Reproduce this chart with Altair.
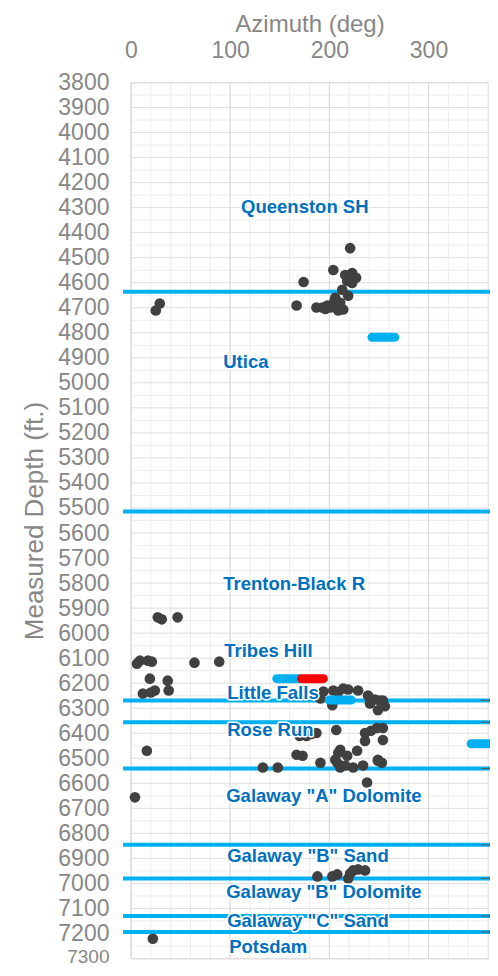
import altair as alt
import pandas as pd

# ---- data ----
az = [221, 204, 223, 174, 167, 187, 198, 206, 213, 218, 214, 209, 223, 219, 211, 201, 193, 29, 25, 216, 227, 223, 205, 196,
      27, 31, 47, 6, 9, 17, 21, 64, 89, 19, 37, 12, 24, 38, 20,
      191, 194, 204, 214, 229, 239, 251, 256, 249, 203, 241, 254, 219, 246, 209,
      187, 177, 170, 172, 207, 236, 248, 254, 236, 254, 16, 167, 173, 191, 209, 218, 228, 208, 211, 224, 234, 249, 253,
      133, 148, 238, 4, 216, 206, 211, 182, 242, 249,
      188, 203, 208, 219, 221, 224, 229, 236,
      22]
md = [4462, 4549, 4561, 4597, 4691, 4699, 4691, 4660, 4628, 4593, 4707, 4711, 4589, 4652, 4680, 4699, 4699, 4683, 4711, 4569, 4580, 4601, 4675, 4705,
      5937, 5945, 5937, 6122, 6110, 6110, 6114, 6118, 6114, 6182, 6190, 6241, 6229, 6229, 6237,
      6261, 6233, 6229, 6221, 6229, 6249, 6269, 6292, 6308, 6288, 6281, 6269, 6225, 6265, 6235,
      6399, 6411, 6411, 6399, 6387, 6399, 6379, 6379, 6431, 6427, 6470, 6486, 6490, 6518, 6478, 6490, 6470, 6518, 6537, 6537, 6529, 6506, 6518,
      6537, 6537, 6597, 6656, 6529, 6506, 6466, 6403, 6390, 6510,
      6972, 6972, 6964, 6980, 6960, 6948, 6944, 6948,
      7221]

tops_md = [4636, 5514, 6269, 6356, 6541, 6846, 6980, 7130, 7194]
tops_from = [-8] * 9
tops_to = [369] * 9

dash_md = [6269, 6356, 6541, 6846, 6980, 7130, 7194]

bar_md = [4818, 6182, 6267, 6442, 6182]
bar_from = [243, 147, 200, 343, 172]
bar_to = [266, 170, 222, 365, 194]
bar_color = ["#00B0F0", "#00B0F0", "#00B0F0", "#00B0F0", "#FF0000"]

label_text = ["Queenston SH", "Utica", "Trenton-Black R", "Tribes Hill", "Little Falls", "Rose Run",
              'Galaway "A" Dolomite', 'Galaway "B" Sand', 'Galaway "B" Dolomite', 'Galaway "C" Sand', "Potsdam"]
label_az = [111, 93, 93, 94, 97, 97, 96, 97, 96, 97, 99]
label_md = [4296, 4917, 5802, 6071, 6241, 6387, 6650, 6890, 7033, 7150, 7254]

x_ticks = [0, 100, 200, 300]
y_ticks = list(range(3800, 7301, 100))

# ---- build ----
FONT = "Liberation Sans"
GRAY = "#878787"
xs = alt.Scale(domain=[0, 360], nice=False, zero=False)
ys = alt.Scale(domain=[3800, 7300], reverse=True, nice=False, zero=False)
x_axis = alt.Axis(orient="top", values=x_ticks, title="Azimuth (deg)", grid=False, domain=False, ticks=False,
                  tickSize=0, labelFontSize=23, labelColor=GRAY, labelFont=FONT, labelPadding=20,
                  labelFlush=False,
                  titleFontSize=24, titleColor=GRAY, titleFont=FONT, titleFontWeight="normal", titlePadding=3)
y_axis = alt.Axis(values=y_ticks, format="d", title="Measured Depth (ft.)", grid=False, domain=False, ticks=False,
                  tickSize=0, labelColor=GRAY, labelFont=FONT, labelPadding=22,
                  labelFontSize={"condition": {"test": "datum.value === 7300", "value": 19}, "value": 23},
                  labelOffset={"condition": {"test": "datum.value === 7300", "value": -2.3}, "value": 0},
                  titleFontSize=26, titleColor=GRAY, titleFont=FONT, titleFontWeight="normal", titlePadding=10,
                  labelOverlap=False, labelFlush=False, labelBound=False)

X = lambda f: alt.X(f, type="quantitative", scale=xs, axis=x_axis)
Y = lambda f: alt.Y(f, type="quantitative", scale=ys, axis=y_axis)

minor_x = pd.DataFrame({"az": list(range(0, 361, 20))})
major_x = pd.DataFrame({"az": x_ticks})
minor_y = pd.DataFrame({"md": list(range(3850, 7300, 100))})
major_y = pd.DataFrame({"md": y_ticks})

g1 = alt.Chart(minor_x).mark_rule(color="#EDEDED", strokeWidth=1).encode(x=X("az"))
g2 = alt.Chart(minor_y).mark_rule(color="#EDEDED", strokeWidth=1).encode(y=Y("md"))
g3 = alt.Chart(major_y).mark_rule(color="#DEDEDE", strokeWidth=1).encode(y=Y("md"))
g4 = alt.Chart(major_x).mark_rule(color="#D9D9D9", strokeWidth=1).encode(x=X("az"))

tops = pd.DataFrame({"md": tops_md, "az": tops_from, "az2": tops_to})
lines = alt.Chart(tops).mark_rule(color="#00B0F0", strokeWidth=4, clip=False).encode(
    x=X("az"), x2="az2", y=Y("md"))

dashes = pd.DataFrame({"md": dash_md, "az": [353] * len(dash_md), "az2": [366] * len(dash_md)})
dash_l = alt.Chart(dashes).mark_rule(color="#595959", strokeWidth=1, clip=False).encode(
    x=X("az"), x2="az2", y=Y("md"))

pts = pd.DataFrame({"az": az, "md": md})
points = alt.Chart(pts).mark_circle(size=113, color="#404040", opacity=1).encode(x=X("az"), y=Y("md"))

bars = pd.DataFrame({"md": bar_md, "az": bar_from, "az2": bar_to, "c": bar_color, "o": list(range(len(bar_md)))})
bar_l = alt.Chart(bars).mark_rule(strokeWidth=9, strokeCap="round", clip=False).encode(
    x=X("az"), x2="az2", y=Y("md"), color=alt.Color("c:N", scale=None), order="o:Q")

labs = pd.DataFrame({"t": label_text, "az": label_az, "md": label_md})
halo = alt.Chart(labs).mark_text(align="left", baseline="middle", font=FONT, fontSize=18.5, fontWeight="bold",
                                 color="#0070C0", stroke="white", strokeWidth=3, strokeJoin="round").encode(
    x=X("az"), y=Y("md"), text="t:N")
text = alt.Chart(labs).mark_text(align="left", baseline="middle", font=FONT, fontSize=18.5, fontWeight="bold",
                                 color="#0070C0").encode(x=X("az"), y=Y("md"), text="t:N")

chart = alt.layer(g1, g2, g3, g4, lines, dash_l, points, bar_l, halo, text).properties(
    width=357, height=876,
    padding={"left": 123, "top": 74.5, "right": 2, "bottom": 7.5},
    autosize=alt.AutoSizeParams(type="none"),
).configure_view(stroke=None).configure(background="white")

chart.save("out.html", embed_options={"renderer": "svg", "actions": False})
